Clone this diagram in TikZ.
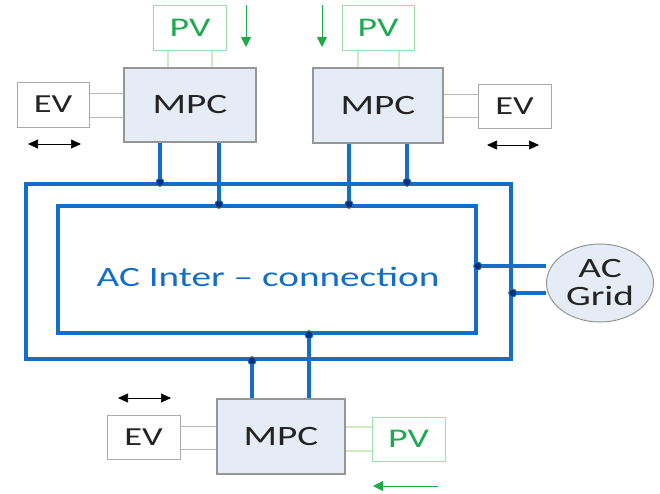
\documentclass[tikz,border=0pt]{standalone}
\usepackage{fontspec}
\setmainfont{Carlito}[FakeStretch=1.4]
\usetikzlibrary{arrows.meta,shapes.geometric}
\definecolor{busblue}{RGB}{20,110,200}
\definecolor{dotblue}{RGB}{8,50,115}
\definecolor{mpcfill}{RGB}{230,236,246}
\definecolor{mpcdraw}{RGB}{150,150,150}
\definecolor{evdraw}{RGB}{170,170,170}
\definecolor{pvdraw}{RGB}{160,222,175}
\definecolor{pvtext}{RGB}{30,170,80}
\definecolor{pvlink}{RGB}{205,235,195}
\definecolor{evlink}{RGB}{185,185,185}
\definecolor{greenarrow}{RGB}{30,170,70}
\definecolor{txt}{RGB}{35,35,35}
\tikzset{
  mpcbox/.style={draw=mpcdraw,line width=1.2pt,fill=mpcfill,inner sep=0pt,
    font=\fontsize{28}{30}\selectfont,text=txt},
  evbox/.style={draw=evdraw,line width=1pt,fill=white,inner sep=0pt,
    font=\fontsize{26}{28}\selectfont,text=txt,minimum width=72pt,minimum height=45pt},
  pvbox/.style={draw=pvdraw,line width=1pt,fill=white,inner sep=0pt,
    font=\fontsize{27}{29}\selectfont,text=pvtext,minimum width=73pt,minimum height=45pt},
  bus/.style={draw=busblue,line width=3.4pt},
  evl/.style={draw=evlink,line width=1pt},
  pvl/.style={draw=pvlink,line width=1.2pt},
  garrow/.style={draw=greenarrow,line width=1pt,-{Triangle[length=10pt,width=10pt]}},
  barrow/.style={draw=black,line width=0.7pt,{Triangle[length=10pt,width=9pt]}-{Triangle[length=10pt,width=9pt]}},
  junction/.style={circle,fill=dotblue,draw=busblue,line width=1pt,inner sep=0pt,minimum size=8pt},
}
\begin{document}
\begin{tikzpicture}[x=1pt,y=-1pt]
\useasboundingbox (0,0) rectangle (660,493);
% bus rectangles
\node[bus,minimum width=485pt,minimum height=175pt,inner sep=0pt] (outer) at (268.5,271.5) {};
\node[bus,minimum width=418pt,minimum height=127pt,inner sep=0pt] (inner) at (267,269.5) {};
\node[text=busblue,font=\fontsize{28}{30}\selectfont] (lbl) at (268,277) {AC Inter -- connection};
% MPC boxes
\node[mpcbox,minimum width=132pt,minimum height=74pt] (mpc1) at (190,105) {MPC};
\node[mpcbox,minimum width=130pt,minimum height=75pt] (mpc2) at (378,105.5) {MPC};
\node[mpcbox,minimum width=128pt,minimum height=75pt] (mpc3) at (281,436.5) {MPC};
% PV boxes
\node[pvbox] (pv1) at (190,27.5) {PV};
\node[pvbox,minimum width=72pt] (pv2) at (378,27.5) {PV};
\node[pvbox,minimum height=44pt] (pv3) at (408.5,439) {PV};
% EV boxes
\node[evbox] (ev1) at (53,104.5) {EV};
\node[evbox,minimum width=73pt,minimum height=44pt] (ev2) at (514.5,106) {EV};
\node[evbox,minimum width=73pt,minimum height=44pt] (ev3) at (143.5,437) {EV};
% AC grid
\node[ellipse,draw=mpcdraw,line width=1pt,fill=mpcfill,minimum width=107pt,minimum height=78pt,
  inner sep=0pt,align=center,font=\fontsize{28}{29}\selectfont,text=txt] (grid) at (600,283) {AC\\[-1pt]Grid};
% helper coordinates
\coordinate (a1) at (160,0); \coordinate (a2) at (219,0);
\coordinate (b1) at (349,0); \coordinate (b2) at (407,0);
\coordinate (c1) at (252,0); \coordinate (c2) at (309,0);
\coordinate (g1) at (0,266); \coordinate (g2) at (0,293);
% PV links
\draw[pvl] (pv1.south -| 168,0) -- (mpc1.north -| 168,0);
\draw[pvl] (pv1.south -| 212,0) -- (mpc1.north -| 212,0);
\draw[pvl] (pv2.south -| 358,0) -- (mpc2.north -| 358,0);
\draw[pvl] (pv2.south -| 399,0) -- (mpc2.north -| 399,0);
\draw[pvl] (pv3.west |- 0,427) -- (mpc3.east |- 0,427);
\draw[pvl] (pv3.west |- 0,451) -- (mpc3.east |- 0,451);
% EV links
\draw[evl] (ev1.east |- 0,93) -- (mpc1.west |- 0,93);
\draw[evl] (ev1.east |- 0,117) -- (mpc1.west |- 0,117);
\draw[evl] (ev2.west |- 0,94) -- (mpc2.east |- 0,94);
\draw[evl] (ev2.west |- 0,117) -- (mpc2.east |- 0,117);
\draw[evl] (ev3.east |- 0,426) -- (mpc3.west |- 0,426);
\draw[evl] (ev3.east |- 0,449) -- (mpc3.west |- 0,449);
% bus feeders
\draw[bus] (mpc1.south -| a1) -- (outer.north -| a1) node[junction] (j1) {};
\draw[bus] (mpc1.south -| a2) -- (inner.north -| a2) node[junction] (j2) {};
\draw[bus] (mpc2.south -| b1) -- (inner.north -| b1) node[junction] (j3) {};
\draw[bus] (mpc2.south -| b2) -- (outer.north -| b2) node[junction] (j4) {};
\draw[bus] (mpc3.north -| c1) -- (outer.south -| c1) node[junction] (j5) {};
\draw[bus] (mpc3.north -| c2) -- (inner.south -| c2) node[junction] (j6) {};
\draw[bus] (inner.east |- g1) node[junction] (j7) {} -- (grid.west |- g1);
\draw[bus] (outer.east |- g2) node[junction] (j8) {} -- (grid.west |- g2);
% green arrows
\coordinate (ga1s) at (246,5); \coordinate (ga1e) at (246,47);
\coordinate (ga2s) at (322,5); \coordinate (ga2e) at (322,47);
\coordinate (ga3s) at (438,486); \coordinate (ga3e) at (373,486);
\draw[garrow] (ga1s) -- (ga1e);
\draw[garrow] (ga2s) -- (ga2e);
\draw[garrow] (ga3s) -- (ga3e);
% black double arrows
\coordinate (da1s) at (28,144); \coordinate (da1e) at (81,144);
\coordinate (da2s) at (487,145); \coordinate (da2e) at (539,145);
\coordinate (da3s) at (118,398); \coordinate (da3e) at (171,398);
\draw[barrow] (da1s) -- (da1e);
\draw[barrow] (da2s) -- (da2e);
\draw[barrow] (da3s) -- (da3e);
\end{tikzpicture}
\end{document}
